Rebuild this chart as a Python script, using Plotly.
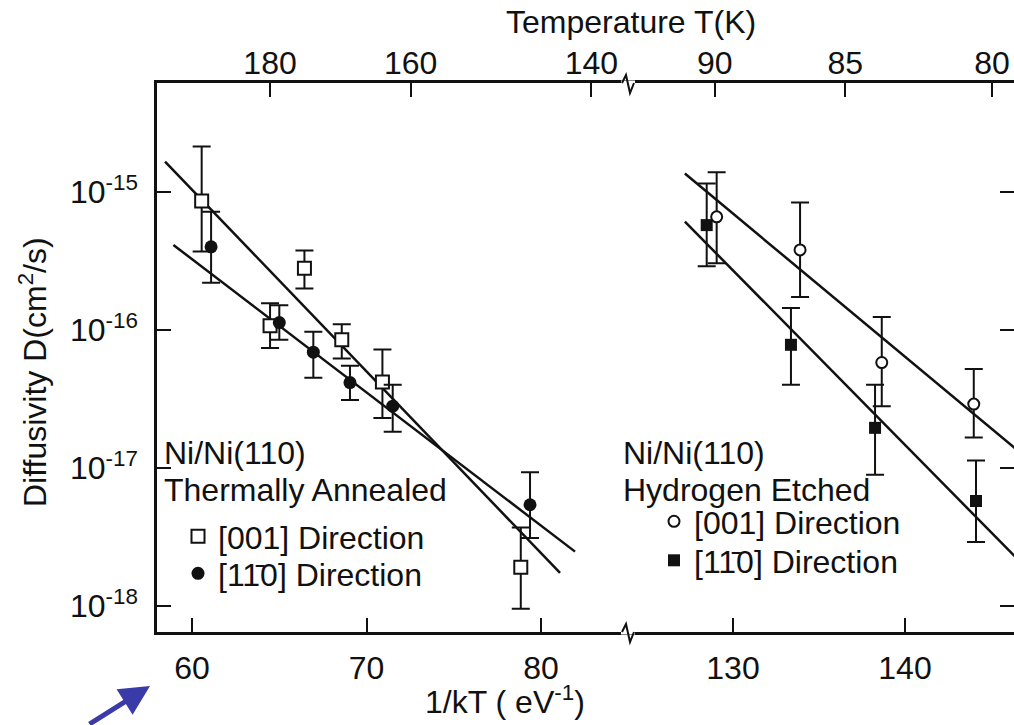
import plotly.graph_objects as go

KB = 8.617333e-5  # eV/K

# ---------------- data ----------------
# Thermally annealed, [001] direction (open squares)
ta001_x = [60.55, 64.47, 66.44, 68.58, 70.91, 78.84]
ta001_D = [8.6e-16, 1.07e-16, 2.8e-16, 8.5e-17, 4.2e-17, 1.9e-18]
ta001_hi = [2.14e-15, 1.56e-16, 3.76e-16, 1.10e-16, 7.2e-17, 3.7e-18]
ta001_lo = [3.7e-16, 7.4e-17, 2.0e-16, 6.2e-17, 2.3e-17, 9.5e-19]

# Thermally annealed, [1-10] direction (filled circles)
ta110_x = [61.09, 65.0, 66.95, 69.05, 71.5, 79.37]
ta110_D = [4.0e-16, 1.13e-16, 6.9e-17, 4.15e-17, 2.8e-17, 5.4e-18]
ta110_hi = [7.2e-16, 1.51e-16, 9.7e-17, 5.5e-17, 4.0e-17, 9.3e-18]
ta110_lo = [2.2e-16, 8.5e-17, 4.5e-17, 3.1e-17, 1.83e-17, 3.1e-18]

# Hydrogen etched, [001] direction (open circles)
he001_x = [129.05, 133.9, 138.65, 144.0]
he001_D = [6.6e-16, 3.8e-16, 5.8e-17, 2.9e-17]
he001_hi = [1.39e-15, 8.4e-16, 1.24e-16, 5.2e-17]
he001_lo = [3.04e-16, 1.73e-16, 2.8e-17, 1.66e-17]

# Hydrogen etched, [1-10] direction (filled squares)
he110_x = [128.47, 133.37, 138.26, 144.13]
he110_D = [5.75e-16, 7.8e-17, 1.95e-17, 5.75e-18]
he110_hi = [1.15e-15, 1.44e-16, 4.0e-17, 1.13e-17]
he110_lo = [2.9e-16, 4.0e-17, 8.9e-18, 2.9e-18]

# Fitted Arrhenius lines (end points)
fit_ta001_x = [58.45, 81.09]
fit_ta001_D = [1.66e-15, 1.73e-18]
fit_ta110_x = [58.93, 81.95]
fit_ta110_D = [4.13e-16, 2.47e-18]
fit_he001_x = [127.2, 147.0]
fit_he001_D = [1.36e-15, 1.2e-17]
fit_he110_x = [127.2, 147.0]
fit_he110_D = [6.1e-16, 1.91e-18]

# Axis ticks
left_ticks = [60, 70, 80]
right_ticks = [130, 140]
top_left_T = [180, 160, 140]
top_right_T = [90, 85, 80]
y_ticks = [1e-18, 1e-17, 1e-16, 1e-15]
y_ticktext = ["10<sup>-18</sup>", "10<sup>-17</sup>", "10<sup>-16</sup>", "10<sup>-15</sup>"]

# ---------------- figure ----------------
W, H = 1014, 725
ML, MR, MT, MB = 157, 0, 83, 93
PW, PH = W - ML - MR, H - MT - MB
BREAK = (630 - ML) / PW

FONT = "Liberation Sans, Arial, sans-serif"
FS = 32
BLACK = "#111111"
LW = 2.5


def errs(D, hi, lo):
    return dict(type="data", symmetric=False,
                array=[h - d for d, h in zip(D, hi)],
                arrayminus=[d - l for d, l in zip(D, lo)],
                color=BLACK, thickness=2, width=9)


def px2paper(px, py):
    return (px - ML) / PW, (H - MB - py) / PH


fig = go.Figure()

for fx, fd, xa, ya in [(fit_ta001_x, fit_ta001_D, "x", "y"),
                       (fit_ta110_x, fit_ta110_D, "x", "y"),
                       (fit_he001_x, fit_he001_D, "x2", "y2"),
                       (fit_he110_x, fit_he110_D, "x2", "y2")]:
    fig.add_trace(go.Scatter(x=fx, y=fd, mode="lines", xaxis=xa, yaxis=ya,
                             line=dict(color=BLACK, width=LW), showlegend=False,
                             hoverinfo="skip"))

# invisible traces so the top (temperature) axes are drawn
fig.add_trace(go.Scatter(x=ta001_x, y=ta001_D, xaxis="x3", yaxis="y", mode="markers",
                         marker=dict(opacity=0), showlegend=False, hoverinfo="skip"))
fig.add_trace(go.Scatter(x=he001_x, y=he001_D, xaxis="x4", yaxis="y2", mode="markers",
                         marker=dict(opacity=0), showlegend=False, hoverinfo="skip"))

series = [
    (ta001_x, ta001_D, ta001_hi, ta001_lo, "x", "y", "[001] Direction",
     dict(symbol="square", size=13, color="white", line=dict(color=BLACK, width=2)), "legend"),
    (ta110_x, ta110_D, ta110_hi, ta110_lo, "x", "y", "[11\u03040] Direction",
     dict(symbol="circle", size=13, color=BLACK, line=dict(width=0)), "legend2"),
    (he001_x, he001_D, he001_hi, he001_lo, "x2", "y2", "[001] Direction",
     dict(symbol="circle", size=11, color="white", line=dict(color=BLACK, width=2)), "legend3"),
    (he110_x, he110_D, he110_hi, he110_lo, "x2", "y2", "[11\u03040] Direction",
     dict(symbol="square", size=12, color=BLACK, line=dict(width=0)), "legend4"),
]
for sx, sd, shi, slo, xa, ya, name, mk, lg in series:
    fig.add_trace(go.Scatter(x=sx, y=sd, mode="markers", name=name,
                             error_y=errs(sd, shi, slo), xaxis=xa, yaxis=ya,
                             marker=mk, legend=lg))

left_range = [57.99, 85.10]
right_range = [124.01, 146.34]
yr = [-18.19, -14.21]

axis_common = dict(showline=True, linecolor=BLACK, linewidth=LW, ticks="inside",
                   ticklen=14, tickwidth=2, tickcolor=BLACK, showgrid=False,
                   zeroline=False, tickfont=dict(family=FONT, size=FS, color=BLACK))


def legend_at(px, py_center):
    x, _ = px2paper(px, 0)
    _, y = px2paper(0, py_center - 29)
    return dict(x=x, y=y, xanchor="left", yanchor="top", bgcolor="rgba(0,0,0,0)",
                font=dict(family=FONT, size=FS, color=BLACK), itemclick=False,
                borderwidth=0)


fig.update_layout(
    width=W, height=H,
    margin=dict(l=ML, r=MR, t=MT, b=MB, pad=0),
    paper_bgcolor="white", plot_bgcolor="white",
    font=dict(family=FONT, size=FS, color=BLACK),
    xaxis=dict(domain=[0, BREAK], range=left_range, tickvals=left_ticks,
               anchor="y", ticklabelstandoff=6, **axis_common),
    xaxis2=dict(domain=[BREAK, 1], range=right_range, tickvals=right_ticks,
                anchor="y2", ticklabelstandoff=6, **axis_common),
    xaxis3=dict(overlaying="x", side="top", anchor="y", range=left_range,
                tickvals=[1 / (KB * t) for t in top_left_T],
                ticktext=[str(t) for t in top_left_T], ticklabelstandoff=-7,
                **axis_common),
    xaxis4=dict(overlaying="x2", side="top", anchor="y2", range=right_range,
                tickvals=[1 / (KB * t) for t in top_right_T],
                ticktext=[str(t) for t in top_right_T], ticklabelstandoff=-7,
                **axis_common),
    yaxis=dict(type="log", range=yr, tickvals=y_ticks, ticktext=y_ticktext,
               anchor="x", side="left", ticklabelstandoff=10, **axis_common),
    yaxis2=dict(type="log", range=yr, tickvals=y_ticks, showticklabels=False,
                anchor="x2", side="right", matches="y", **axis_common),
    legend=legend_at(178, 538),
    legend2=legend_at(178, 575),
    legend3=legend_at(654, 523),
    legend4=legend_at(654, 562),
)

annos = [
    ("Ni/Ni(110)", 162, 453, "left", 0),
    ("Thermally Annealed", 162, 490, "left", 0),
    ("Ni/Ni(110)", 621, 453, "left", 0),
    ("Hydrogen Etched", 621, 490, "left", 0),
    ("1/kT ( eV<sup>-1</sup>)", 505, 700, "center", 0),
    ("Temperature T(K)", 631, 22, "center", 0),
    ("Diffusivity D(cm<sup>2</sup>/s)", 33, 372, "center", -90),
]
for text, px, py, xa, ang in annos:
    x, y = px2paper(px, py)
    fig.add_annotation(text=text, x=x, y=y, xref="paper", yref="paper",
                       xanchor=xa, yanchor="middle", showarrow=False, textangle=ang,
                       font=dict(family=FONT, size=FS, color=BLACK))

# blue arrow (overlay in the source image)
ax_, ay_ = px2paper(150, 686)
fig.add_annotation(x=ax_, y=ay_, xref="paper", yref="paper", ax=-62, ay=44,
                   showarrow=True, arrowhead=2, arrowsize=1.2, arrowwidth=5,
                   arrowcolor="#3a3aa8", text="")


# axis-break zigzags
def zig(py):
    pts = [(622, py), (626, py - 8), (630, py + 10), (634, py)]
    p = [px2paper(a, b) for a, b in pts]
    return "M " + " L ".join(f"{a:.5f},{b:.5f}" for a, b in p)


for py in (83, 632):
    x0, y0 = px2paper(621, py)
    x1, _ = px2paper(635, py)
    fig.add_shape(type="line", x0=x0, x1=x1, y0=y0, y1=y0, xref="paper", yref="paper",
                  line=dict(color="white", width=5), layer="above")
    fig.add_shape(type="path", path=zig(py), xref="paper", yref="paper",
                  line=dict(color=BLACK, width=2), layer="above")

fig.write_html("out.html", config={"displayModeBar": False},
               post_script="document.body.style.margin='0px';")
